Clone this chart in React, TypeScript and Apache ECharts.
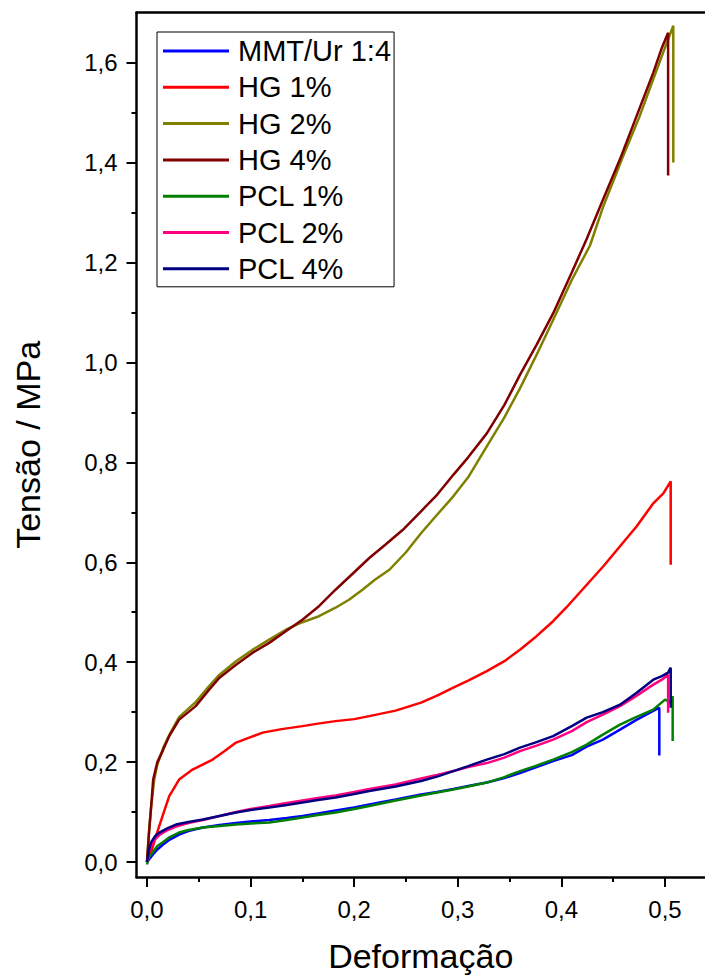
import React, { useEffect, useRef } from "react";
import * as echarts from "echarts";

const seriesNames = ["MMT/Ur 1:4", "HG 1%", "HG 2%", "HG 4%", "PCL 1%", "PCL 2%", "PCL 4%"];
const seriesColors = ["#0000ff", "#ff0000", "#808000", "#800000", "#008000", "#ff0080", "#000080"];

const mmtUr: number[][] = [
  [0, 0], [0.002, 0.005], [0.005, 0.013], [0.01, 0.025], [0.015, 0.034], [0.022, 0.045], [0.031, 0.055],
  [0.04, 0.062], [0.054, 0.069], [0.07, 0.074], [0.086, 0.078], [0.1, 0.081], [0.118, 0.084], [0.135, 0.088],
  [0.15, 0.092], [0.165, 0.097], [0.182, 0.103], [0.2, 0.109], [0.2146, 0.115], [0.24, 0.125], [0.2645, 0.135],
  [0.28, 0.14], [0.2957, 0.146], [0.31, 0.152], [0.328, 0.159], [0.345, 0.168], [0.36, 0.178], [0.376, 0.19],
  [0.392, 0.202], [0.41, 0.214], [0.4244, 0.231], [0.44, 0.245], [0.4566, 0.265], [0.472, 0.284],
  [0.4855, 0.299], [0.4945, 0.309], [0.4945, 0.213],
];

const hg1: number[][] = [
  [0, 0], [0.004, 0.02], [0.0087, 0.052], [0.015, 0.092], [0.0215, 0.132], [0.031, 0.165], [0.044, 0.185],
  [0.0634, 0.205], [0.075, 0.222], [0.086, 0.239], [0.1, 0.25], [0.1117, 0.259], [0.13, 0.266], [0.15, 0.272],
  [0.165, 0.277], [0.182, 0.282], [0.2, 0.286], [0.2146, 0.292], [0.24, 0.303], [0.2645, 0.319], [0.28, 0.333],
  [0.2957, 0.349], [0.31, 0.363], [0.328, 0.382], [0.345, 0.402], [0.36, 0.425], [0.376, 0.452], [0.392, 0.482],
  [0.405, 0.51], [0.421, 0.547], [0.4405, 0.592], [0.4566, 0.632], [0.4727, 0.672], [0.4887, 0.718],
  [0.4984, 0.738], [0.5055, 0.762], [0.5055, 0.595],
];

const hg2: number[][] = [
  [0, 0], [0.002, 0.06], [0.004, 0.11], [0.007, 0.165], [0.01, 0.195], [0.016, 0.23], [0.022, 0.256],
  [0.031, 0.29], [0.047, 0.32], [0.06, 0.352], [0.07, 0.375], [0.086, 0.402], [0.102, 0.425], [0.118, 0.445],
  [0.134, 0.465], [0.15, 0.48], [0.166, 0.492], [0.182, 0.509], [0.195, 0.525], [0.208, 0.545], [0.22, 0.565],
  [0.234, 0.585], [0.25, 0.62], [0.2645, 0.658], [0.28, 0.695], [0.2957, 0.732], [0.31, 0.77], [0.328, 0.832],
  [0.345, 0.89], [0.36, 0.948], [0.376, 1.015], [0.392, 1.085], [0.41, 1.165], [0.4276, 1.234], [0.44, 1.31],
  [0.4598, 1.414], [0.475, 1.49], [0.4887, 1.567], [0.5, 1.63], [0.508, 1.674], [0.508, 1.4],
];

const hg4: number[][] = [
  [0, 0], [0.002, 0.06], [0.004, 0.11], [0.006, 0.165], [0.01, 0.2], [0.0157, 0.225], [0.0215, 0.252],
  [0.031, 0.285], [0.04, 0.3], [0.047, 0.312], [0.06, 0.345], [0.07, 0.369], [0.086, 0.395], [0.102, 0.419],
  [0.118, 0.4386], [0.134, 0.462], [0.15, 0.485], [0.166, 0.512], [0.182, 0.545], [0.2, 0.58], [0.2146, 0.6085],
  [0.23, 0.635], [0.247, 0.665], [0.2645, 0.702], [0.28, 0.735], [0.2957, 0.775], [0.31, 0.81], [0.328, 0.858],
  [0.345, 0.915], [0.36, 0.975], [0.376, 1.035], [0.392, 1.098], [0.41, 1.18], [0.4244, 1.247], [0.44, 1.325],
  [0.4566, 1.407], [0.472, 1.49], [0.4887, 1.58], [0.497, 1.63], [0.503, 1.66], [0.503, 1.374],
];

const pcl1: number[][] = [
  [0, -0.005], [0.002, 0.01], [0.0055, 0.019], [0.01, 0.032], [0.015, 0.039], [0.022, 0.05], [0.031, 0.059],
  [0.04, 0.064], [0.054, 0.069], [0.07, 0.072], [0.086, 0.075], [0.1, 0.077], [0.118, 0.079], [0.135, 0.084],
  [0.15, 0.089], [0.165, 0.094], [0.182, 0.099], [0.2, 0.106], [0.2146, 0.112], [0.24, 0.123], [0.2645, 0.133],
  [0.28, 0.139], [0.2957, 0.145], [0.31, 0.151], [0.328, 0.159], [0.345, 0.17], [0.36, 0.182], [0.376, 0.193],
  [0.392, 0.205], [0.41, 0.22], [0.4244, 0.235], [0.44, 0.255], [0.4566, 0.275], [0.472, 0.29], [0.4887, 0.305],
  [0.5, 0.325], [0.505, 0.32], [0.5074, 0.332], [0.5074, 0.242],
];

const pcl2: number[][] = [
  [0, 0], [0.002, 0.02], [0.004, 0.033], [0.008, 0.046], [0.012, 0.054], [0.02, 0.064], [0.028, 0.071],
  [0.04, 0.078], [0.054, 0.084], [0.07, 0.092], [0.086, 0.1], [0.1, 0.106], [0.118, 0.112], [0.135, 0.118],
  [0.15, 0.123], [0.165, 0.128], [0.182, 0.133], [0.2, 0.14], [0.2146, 0.146], [0.24, 0.155], [0.2645, 0.167],
  [0.28, 0.174], [0.2957, 0.182], [0.31, 0.19], [0.328, 0.198], [0.345, 0.209], [0.36, 0.222], [0.376, 0.233],
  [0.392, 0.245], [0.41, 0.262], [0.4244, 0.28], [0.44, 0.295], [0.4566, 0.312], [0.472, 0.332], [0.4887, 0.355],
  [0.497, 0.365], [0.503, 0.375], [0.503, 0.299],
];

const pcl4: number[][] = [
  [0, 0], [0.002, 0.025], [0.0039, 0.039], [0.008, 0.052], [0.012, 0.059], [0.02, 0.068], [0.028, 0.075],
  [0.04, 0.08], [0.054, 0.085], [0.07, 0.092], [0.086, 0.099], [0.1, 0.104], [0.118, 0.109], [0.135, 0.114],
  [0.15, 0.119], [0.165, 0.124], [0.182, 0.129], [0.2, 0.136], [0.2146, 0.142], [0.24, 0.151], [0.2645, 0.162],
  [0.28, 0.171], [0.2957, 0.182], [0.31, 0.192], [0.328, 0.205], [0.345, 0.216], [0.36, 0.229], [0.376, 0.24],
  [0.392, 0.252], [0.41, 0.272], [0.4244, 0.289], [0.44, 0.3], [0.4566, 0.315], [0.472, 0.338], [0.4887, 0.365],
  [0.497, 0.372], [0.503, 0.379], [0.5055, 0.389], [0.5055, 0.309],
];

const xMajorTicks = [0, 0.1, 0.2, 0.3, 0.4, 0.5];
const xMinorTicks = [0.05, 0.15, 0.25, 0.35, 0.45];
const yMajorTicks = [0, 0.2, 0.4, 0.6, 0.8, 1.0, 1.2, 1.4, 1.6];
const yMinorTicks = [0.1, 0.3, 0.5, 0.7, 0.9, 1.1, 1.3, 1.5];

const X_MIN = -0.0101;
const X_MAX = 0.5386;
const Y_MIN = -0.03;
const Y_MAX = 1.7;

const FONT = "'Liberation Sans', Arial, sans-serif";
const fmt = (v: number) => v.toFixed(1).replace(".", ",");

export default function App() {
  const ref = useRef<HTMLDivElement>(null);

  useEffect(() => {
    if (!ref.current) return;
    const chart = echarts.init(ref.current, undefined, { renderer: "svg" });
    const allData = [mmtUr, hg1, hg2, hg4, pcl1, pcl2, pcl4];

    const baseX = { type: "value", min: X_MIN, max: X_MAX, splitLine: { show: false } };
    const baseY = { type: "value", min: Y_MIN, max: Y_MAX, splitLine: { show: false } };

    const option: any = {
      animation: false,
      backgroundColor: "#ffffff",
      grid: { left: 136.5, top: 12.7, right: 0, bottom: 100.5, containLabel: false },
      legend: {
        orient: "vertical",
        left: 157,
        top: 32,
        data: seriesNames,
        icon: "rect",
        itemWidth: 66,
        itemHeight: 3,
        itemGap: 6.3,
        padding: [4, 3, 3, 6],
        borderColor: "#000",
        borderWidth: 1,
        backgroundColor: "#fff",
        textStyle: { fontSize: 29, lineHeight: 30, color: "#000", fontFamily: FONT, padding: [0, 0, 0, 4] },
        selectedMode: false,
      },
      xAxis: [
        {
          ...baseX,
          position: "bottom",
          name: "Deformação",
          nameLocation: "middle",
          nameGap: 62,
          nameTextStyle: { fontSize: 34, color: "#000", fontFamily: FONT },
          axisLine: { show: true, onZero: false, lineStyle: { color: "#000", width: 2.5 } },
          axisTick: { show: true, customValues: xMajorTicks, length: 10, inside: false, lineStyle: { color: "#000", width: 2 } },
          axisLabel: { show: true, customValues: xMajorTicks, formatter: fmt, fontSize: 24, color: "#000", fontFamily: FONT, margin: 20 },
        },
        {
          ...baseX,
          position: "bottom",
          axisLine: { show: false, onZero: false },
          axisTick: { show: true, customValues: xMinorTicks, length: 5, inside: false, lineStyle: { color: "#000", width: 2 } },
          axisLabel: { show: false },
        },
        {
          ...baseX,
          position: "top",
          axisLine: { show: true, onZero: false, lineStyle: { color: "#000", width: 2.5 } },
          axisTick: { show: false },
          axisLabel: { show: false },
        },
      ],
      yAxis: [
        {
          ...baseY,
          position: "left",
          name: "Tensão / MPa",
          nameLocation: "middle",
          nameGap: 92,
          nameTextStyle: { fontSize: 34, color: "#000", fontFamily: FONT },
          axisLine: { show: true, onZero: false, lineStyle: { color: "#000", width: 2.5 } },
          axisTick: { show: true, customValues: yMajorTicks, length: 10, inside: false, lineStyle: { color: "#000", width: 2 } },
          axisLabel: { show: true, customValues: yMajorTicks, formatter: fmt, fontSize: 24, color: "#000", fontFamily: FONT, margin: 19 },
        },
        {
          ...baseY,
          position: "left",
          axisLine: { show: false, onZero: false },
          axisTick: { show: true, customValues: yMinorTicks, length: 5, inside: false, lineStyle: { color: "#000", width: 2 } },
          axisLabel: { show: false },
        },
      ],
      series: seriesNames.map((name, i) => ({
        name,
        type: "line",
        xAxisIndex: 0,
        yAxisIndex: 0,
        data: allData[i],
        showSymbol: false,
        symbol: "none",
        smooth: false,
        clip: true,
        color: seriesColors[i],
        lineStyle: { color: seriesColors[i], width: 2.5 },
        emphasis: { disabled: true },
      })),
    };

    chart.setOption(option);
    return () => chart.dispose();
  }, []);

  return (
    <div
      ref={ref}
      style={{ position: "absolute", left: 0, top: 0, width: 705, height: 978, background: "#fff" }}
    />
  );
}
